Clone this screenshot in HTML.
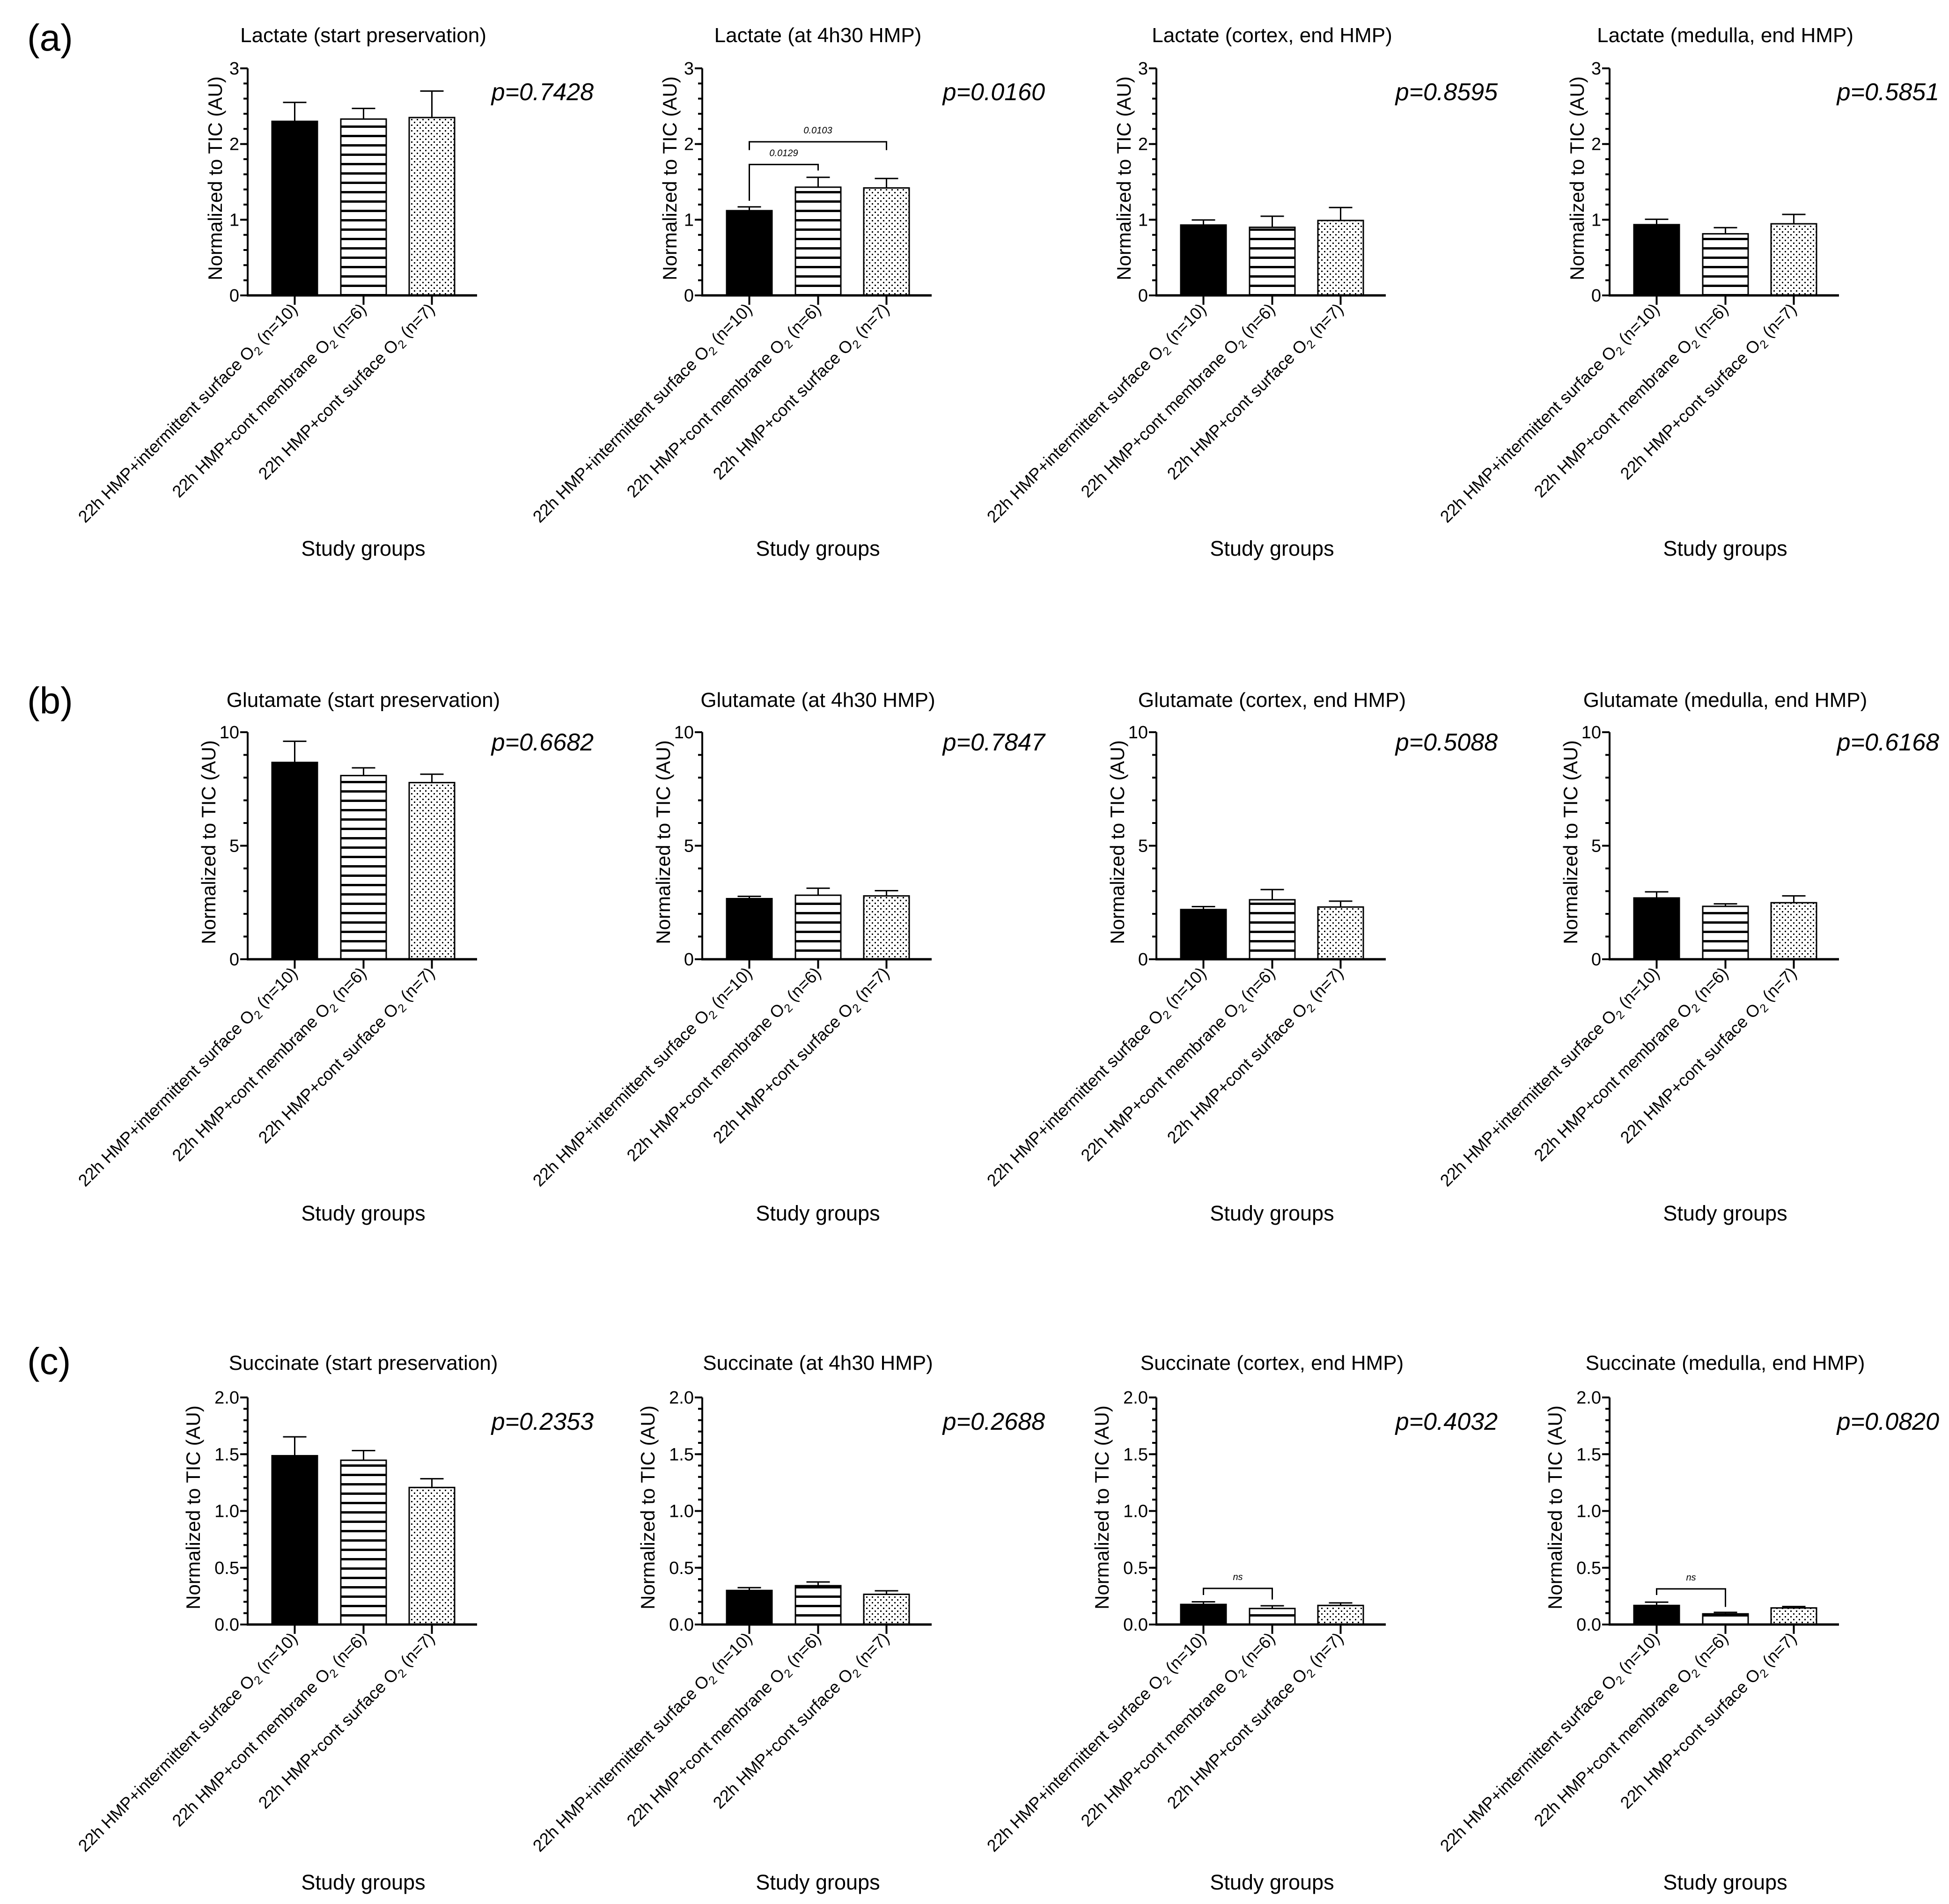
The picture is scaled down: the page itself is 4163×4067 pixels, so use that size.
<!DOCTYPE html>
<html><head><meta charset="utf-8">
<style>
html,body{margin:0;padding:0;background:#fff;}
svg{display:block;font-family:"Liberation Sans",Arial,sans-serif;}
</style></head>
<body>
<svg id="fig" width="4163" height="4067" viewBox="0 0 4163 4067" xmlns="http://www.w3.org/2000/svg">
<defs>
<pattern id="stripes" width="20" height="20" patternUnits="userSpaceOnUse"><rect width="20" height="20" fill="#fff"/><rect y="8" width="20" height="5" fill="#000"/></pattern>
<pattern id="dots" width="12" height="12" patternUnits="userSpaceOnUse"><rect width="12" height="12" fill="#fff"/><rect x="2" y="2" width="3" height="3" fill="#000"/><rect x="8" y="8" width="3" height="3" fill="#000"/></pattern>
</defs>
</svg>
<script>
const groupNames = ["22h HMP+intermittent surface O", "22h HMP+cont membrane O", "22h HMP+cont surface O"];
const groupN = [" (n=10)", " (n=6)", " (n=7)"];
const metabolites = ["Lactate", "Glutamate", "Succinate"];
const timepoints = ["(start preservation)", "(at 4h30 HMP)", "(cortex, end HMP)", "(medulla, end HMP)"];
const rowLetters = ["(a)", "(b)", "(c)"];

const lactateMeans = [[2.30, 2.33, 2.35], [1.12, 1.43, 1.42], [0.93, 0.90, 0.99], [0.935, 0.814, 0.946]];
const lactateErrTop = [[2.55, 2.47, 2.70], [1.17, 1.56, 1.545], [0.997, 1.046, 1.161], [1.006, 0.895, 1.07]];
const lactateP = ["p=0.7428", "p=0.0160", "p=0.8595", "p=0.5851"];
const lactateTicks = ["0", "1", "2", "3"];
const lactateMax = 3;
const lactateMinorStep = 0.2;

const glutamateMeans = [[8.67, 8.09, 7.78], [2.67, 2.82, 2.79], [2.19, 2.62, 2.30], [2.70, 2.33, 2.49]];
const glutamateErrTop = [[9.6, 8.43, 8.15], [2.77, 3.13, 3.02], [2.32, 3.07, 2.56], [2.97, 2.44, 2.79]];
const glutamateP = ["p=0.6682", "p=0.7847", "p=0.5088", "p=0.6168"];
const glutamateTicks = ["0", "5", "10"];
const glutamateMax = 10;
const glutamateMinorStep = 1;

const succinateMeans = [[1.487, 1.447, 1.207], [0.30, 0.342, 0.266], [0.177, 0.141, 0.168], [0.168, 0.094, 0.146]];
const succinateErrTop = [[1.653, 1.532, 1.284], [0.325, 0.375, 0.297], [0.20, 0.165, 0.19], [0.197, 0.107, 0.158]];
const succinateP = ["p=0.2353", "p=0.2688", "p=0.4032", "p=0.0820"];
const succinateTicks = ["0.0", "0.5", "1.0", "1.5", "2.0"];
const succinateMax = 2;
const succinateMinorStep = 0.1;

const bracketRows = [0, 0, 2, 2];
const bracketCols = [1, 1, 2, 3];
const bracketFrom = [0, 0, 0, 0];
const bracketTo = [1, 2, 1, 1];
const bracketLevel = [1.73, 2.03, 0.318, 0.314];
const bracketLegA = [1.25, 1.92, 0.26, 0.26];
const bracketLegB = [1.65, 1.92, 0.22, 0.155];
const bracketLabel = ["0.0129", "0.0103", "ns", "ns"];

const svg = document.getElementById('fig');
const NS = "http://www.w3.org/2000/svg";
function mk(tag, attrs, parent) {
  const e = document.createElementNS(NS, tag);
  for (const k in attrs) e.setAttribute(k, attrs[k]);
  (parent || svg).appendChild(e);
  return e;
}

const colX = [529, 1500, 2470, 3438];
const colPOff = [739, 732, 729, 704];
const rowZero = [631, 2049, 3470];
const rowTitleY = [90, 1510, 2926];
const rowLetterY = [108, 1524, 2935];
const rowPY = [214, 1603, 3054];
const rowYLabelOff = [55, 69, 102];
const rowStudyY = [1187, 2607, 4036];
const PLOT_H = 485;
const AXIS_W = 490;
const barOff = [52, 199, 345];
const BAR_W = 97;
const fills = ["#000", "url(#stripes)", "url(#dots)"];

const rowMeans = [lactateMeans, glutamateMeans, succinateMeans];
const rowErr = [lactateErrTop, glutamateErrTop, succinateErrTop];
const rowP = [lactateP, glutamateP, succinateP];
const rowTicks = [lactateTicks, glutamateTicks, succinateTicks];
const rowMax = [lactateMax, glutamateMax, succinateMax];
const rowMinor = [lactateMinorStep, glutamateMinorStep, succinateMinorStep];

for (let r = 0; r < 3; r++) {
  const lt = mk('text', {x: 58, y: rowLetterY[r], 'font-size': 80, fill: '#000'});
  
  
  lt.textContent = rowLetters[r];

  for (let c = 0; c < 4; c++) {
    const ax = colX[c], zero = rowZero[r], maxV = rowMax[r];
    const yS = v => zero - v / maxV * PLOT_H;
    const g = mk('g', {});
    
    

    const t = mk('text', {x: ax + 247, y: rowTitleY[r], 'font-size': 44, 'text-anchor': 'middle'}, g);
    
    
    t.textContent = metabolites[r] + ' ' + timepoints[c];

    const pt = mk('text', {x: ax + colPOff[c], y: rowPY[r], 'font-size': 52, 'font-style': 'italic', 'text-anchor': 'end'}, g);
    
    
    pt.textContent = rowP[r][c];

    for (let i = 0; i < 3; i++) {
      const v = rowMeans[r][c][i], e = rowErr[r][c][i];
      const x = ax + barOff[i], cx = x + BAR_W / 2;
      const ln = mk('line', {x1: cx, x2: cx, y1: yS(v), y2: yS(e), stroke: '#000', 'stroke-width': 3}, g);
      
      
      const cap = mk('line', {x1: cx - 25, x2: cx + 25, y1: yS(e), y2: yS(e), stroke: '#000', 'stroke-width': 3}, g);
      
      
      const b = mk('rect', {x: x, y: yS(v), width: BAR_W, height: zero - yS(v), fill: fills[i], stroke: '#000', 'stroke-width': 3}, g);
      
      
      const xt = mk('line', {x1: cx, x2: cx, y1: zero, y2: zero + 20, stroke: '#000', 'stroke-width': 4}, g);
      
      
      const lx = cx + 8, ly = zero + 32;
      const cl = mk('text', {x: lx, y: ly, 'font-size': 36, 'text-anchor': 'end', transform: 'rotate(-45 ' + lx + ' ' + ly + ')'}, g);
      
      
      const s1 = mk('tspan', {}, cl); s1.textContent = groupNames[i];
      const s2 = mk('tspan', {'font-size': 25, dy: 9}, cl); s2.textContent = '2';
      const s3 = mk('tspan', {dy: -9}, cl); s3.textContent = groupN[i];
    }

    const ya = mk('line', {x1: ax, x2: ax, y1: zero - PLOT_H, y2: zero + 2, stroke: '#000', 'stroke-width': 4}, g);
    
    
    const xa = mk('line', {x1: ax - 2, x2: ax + AXIS_W, y1: zero, y2: zero, stroke: '#000', 'stroke-width': 5}, g);
    
    

    const nMinor = Math.round(maxV / rowMinor[r]);
    for (let k = 0; k <= nMinor; k++) {
      const v = k * rowMinor[r];
      const mt = mk('line', {x1: ax - 9, x2: ax, y1: yS(v), y2: yS(v), stroke: '#000', 'stroke-width': 4}, g);
      
      
    }
    const nT = rowTicks[r].length;
    for (let k = 0; k < nT; k++) {
      const v = maxV * k / (nT - 1);
      const tk = mk('line', {x1: ax - 16, x2: ax, y1: yS(v), y2: yS(v), stroke: '#000', 'stroke-width': 4}, g);
      
      
      const tl = mk('text', {x: ax - 18, y: yS(v) + 13, 'font-size': 38, 'text-anchor': 'end'}, g);
      
      
      tl.textContent = rowTicks[r][k];
    }

    const yl = ax - rowYLabelOff[r], ym = zero - 250;
    const ylab = mk('text', {x: yl, y: ym, 'font-size': 42, 'text-anchor': 'middle', transform: 'rotate(-90 ' + yl + ' ' + ym + ')'}, g);
    
    
    ylab.textContent = 'Normalized to TIC (AU)';

    const xlab = mk('text', {x: ax + 247, y: rowStudyY[r], 'font-size': 45, 'text-anchor': 'middle'}, g);
    
    
    xlab.textContent = 'Study groups';

    for (let b = 0; b < bracketRows.length; b++) {
      if (bracketRows[b] !== r || bracketCols[b] !== c) continue;
      const xa1 = ax + barOff[bracketFrom[b]] + BAR_W / 2;
      const xb1 = ax + barOff[bracketTo[b]] + BAR_W / 2;
      const yl2 = yS(bracketLevel[b]);
      const br = mk('path', {d: 'M' + xa1 + ' ' + yS(bracketLegA[b]) + ' V' + yl2 + ' H' + xb1 + ' V' + yS(bracketLegB[b]), fill: 'none', stroke: '#000', 'stroke-width': 3}, g);
      
      
      const bl = mk('text', {x: (xa1 + xb1) / 2, y: yl2 - 18, 'font-size': 20, 'font-style': 'italic', 'text-anchor': 'middle'}, g);
      
      
      bl.textContent = bracketLabel[b];
    }
  }
}
</script>
</body></html>
